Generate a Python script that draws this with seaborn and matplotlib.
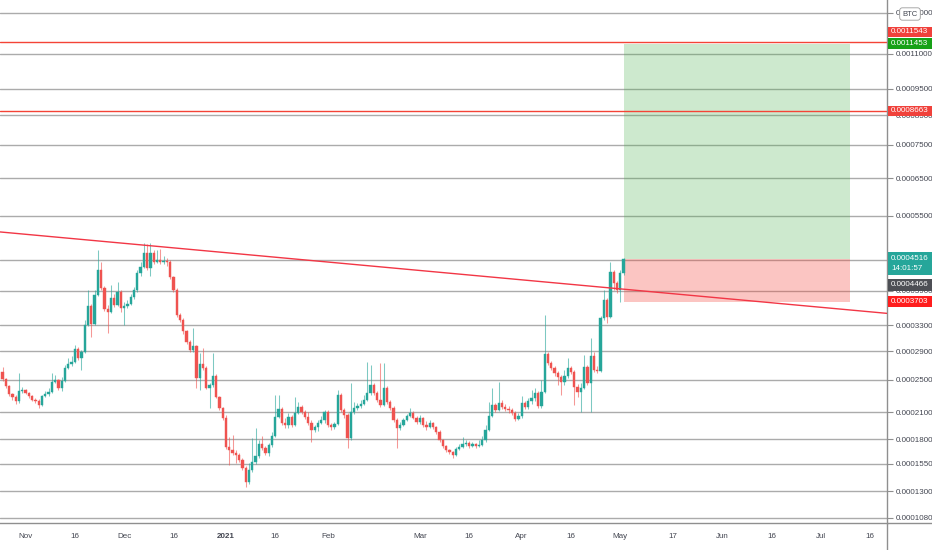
import numpy as np
import pandas as pd
import matplotlib
matplotlib.use('Agg')
import matplotlib.pyplot as plt
import matplotlib.dates as mdates
from matplotlib.patches import Rectangle
from matplotlib.lines import Line2D
from matplotlib.transforms import IdentityTransform
from matplotlib.ticker import FixedLocator, FuncFormatter, NullLocator
import seaborn as sns

sns.set_style('white')
plt.rcParams['font.family'] = ['Liberation Sans', 'DejaVu Sans']

# daily candles from 2020-10-25, prices in satoshi (1e-8 BTC)
first_day = '2020-10-25'
first_open = 26100
closes = [
    25100, 24200, 23200, 22800, 22300, 23600, 23700, 23300, 22900, 22400,
    22300, 21800, 22900, 23200, 23400, 24700, 25000, 24000, 24900, 26600,
    27200, 27400, 29300, 28000, 28900, 33100, 36300, 33200, 38200, 43000,
    39500, 35800, 35200, 37700, 36500, 38800, 35900, 36300, 36600, 37900,
    39200, 42400, 43600, 46500, 43400, 46500, 44600, 45000, 44600, 44800,
    44600, 41600, 39200, 34700, 33900, 32100, 30400, 29200, 29800, 25300,
    27200, 26600, 24000, 24300, 25500, 22800, 21500, 20300, 17200, 16900,
    16600, 16400, 15900, 15100, 13800, 14900, 15700, 16300, 17500, 17100,
    16600, 17400, 18300, 20400, 21400, 19700, 19500, 20400, 19500, 20900,
    21600, 21000, 20400, 19700, 19000, 19300, 19700, 20100, 21000, 19500,
    19300, 19600, 23100, 21200, 20700, 18100, 21000, 21500, 21700, 22000,
    22400, 23300, 24300, 23300, 22400, 21800, 24000, 22200, 21500, 20100,
    19200, 19500, 20100, 20500, 20900, 20300, 19900, 20300, 19500, 19300,
    19700, 19300, 18800, 17900, 17300, 16900, 16700, 16400, 17000, 17200,
    17500, 17600, 17300, 17500, 17300, 17400, 17900, 19000, 20500, 21800,
    21200, 22100, 21600, 21400, 21200, 20900, 20200, 20500, 22100, 21600,
    22300, 22700, 23300, 21700, 23400, 28600, 27300, 26600, 25900, 25400,
    24700, 25500, 26600, 26100, 24100, 23400, 24000, 26800, 24600, 28300,
    26300, 26200, 34200, 37300, 34400, 42600, 40500, 39200, 42400, 45160,
]
highs = [
    26800, 25300, 24300, 23300, 23100, 25900, 24100, 23800, 23400, 23100,
    22700, 22600, 23100, 23600, 24000, 25900, 25700, 25100, 25400, 27000,
    28000, 28300, 29900, 29600, 29200, 33900, 39200, 36600, 39200, 47200,
    44600, 39900, 36500, 40100, 38400, 40700, 39200, 37000, 37300, 38400,
    39700, 43000, 44600, 48700, 48500, 48700, 47200, 47200, 47400, 45900,
    45500, 45000, 41800, 39500, 35100, 34200, 32300, 30700, 32600, 29900,
    28700, 29500, 26900, 24600, 28700, 25800, 22900, 21600, 20700, 18200,
    18400, 16900, 16600, 16100, 15300, 15600, 18100, 19200, 17900, 18300,
    17300, 17600, 18700, 23100, 23100, 21600, 20300, 20900, 20700, 22800,
    22200, 21800, 21200, 21000, 20100, 19500, 20100, 20500, 21200, 21200,
    19700, 19900, 23700, 23300, 21500, 20900, 24600, 22200, 22100, 22400,
    23100, 27400, 27000, 24600, 23600, 27300, 27300, 24200, 22400, 21700,
    20300, 19900, 20300, 20800, 21500, 21100, 20500, 20700, 20400, 20000,
    20100, 19900, 19400, 19000, 18000, 17400, 17000, 16800, 17200, 17500,
    18200, 17900, 17800, 17700, 17600, 17900, 18300, 19500, 22200, 23900,
    22100, 24700, 22400, 22000, 21700, 21500, 21100, 20900, 22900, 22300,
    22700, 23700, 24000, 23600, 25000, 34700, 28900, 27600, 26900, 26200,
    25700, 26300, 28000, 26900, 26300, 24500, 24600, 28500, 27000, 31000,
    28900, 26900, 34600, 39200, 37700, 44600, 43000, 40900, 43000, 45500,
]
lows = [
    24900, 24000, 22900, 22400, 22000, 22100, 23300, 23200, 22700, 22300,
    22100, 21500, 21700, 22800, 22900, 23300, 24600, 23700, 23600, 24700,
    26500, 26900, 27300, 27700, 26300, 28700, 32900, 31200, 33000, 38100,
    39200, 35400, 31800, 35100, 36100, 36300, 35200, 33100, 35900, 36500,
    37500, 38800, 41800, 43400, 43000, 41800, 44200, 44400, 44200, 44200,
    43800, 41200, 38800, 34400, 33600, 31600, 30100, 28900, 28900, 24000,
    23700, 26300, 23800, 21500, 24100, 22700, 21200, 20100, 17000, 15400,
    16400, 15600, 15700, 14900, 13400, 13600, 14700, 15500, 16100, 16900,
    16400, 16300, 17200, 18200, 20300, 19500, 19200, 19200, 19300, 19400,
    20800, 20800, 20200, 19500, 17700, 18700, 18900, 19600, 19700, 19300,
    19000, 19100, 19500, 21000, 20300, 17100, 17900, 20800, 21200, 21500,
    21800, 22300, 23100, 23100, 22200, 21600, 21700, 22000, 21200, 19900,
    17100, 19000, 19400, 20000, 20400, 20200, 19600, 19600, 19300, 19000,
    19200, 19100, 18500, 17700, 17100, 16700, 16500, 16100, 16300, 16900,
    17100, 17300, 17100, 17200, 17100, 17200, 17300, 17700, 18900, 20400,
    21000, 21100, 21400, 21100, 20900, 20700, 20000, 20100, 20300, 21400,
    21400, 22000, 22300, 21500, 21500, 23300, 27000, 26300, 25500, 24300,
    23100, 24300, 25300, 25800, 21800, 22800, 21000, 23800, 24300, 21000,
    26100, 25900, 26100, 33900, 33400, 34200, 39200, 38600, 37000, 42000,
]

# drawings (BTC)
trend_dates = ['2020-10-24 05:00', '2021-07-21 04:00']
trend_prices = [0.000512, 0.000350]
red_levels = [0.0011543, 0.0008663]
pos_start, pos_end = '2021-05-02', '2021-07-10'
entry, target, stop = 0.0004516, 0.0011453, 0.0003703
prev_close = 0.0004466

price_ticks = [0.000108, 0.00013, 0.000155, 0.00018, 0.00021, 0.00025, 0.00029,
               0.00033, 0.00039, 0.00045, 0.00055, 0.00065, 0.00075, 0.00085,
               0.00095, 0.0011, 0.0013]
hidden_ticks = [0.00045]   # label sits fully under the last-price tag
xtick_dates = ['2020-11-01', '2020-11-16', '2020-12-01', '2020-12-16', '2021-01-01',
               '2021-01-16', '2021-02-01', '2021-03-01', '2021-03-16', '2021-04-01',
               '2021-04-16', '2021-05-01', '2021-05-17', '2021-06-01', '2021-06-16',
               '2021-07-01', '2021-07-16']
xtick_labels = ['Nov', '16', 'Dec', '16', '2021', '16', 'Feb', 'Mar', '16', 'Apr',
                '16', 'May', '17', 'Jun', '16', 'Jul', '16']

UP, DOWN = '#26a69a', '#ef5350'
TXT = '#434651'
AXC = '#8f8f8f'

c = np.array(closes) * 1e-8
h = np.array(highs) * 1e-8
l = np.array(lows) * 1e-8
o = np.array([first_open] + closes[:-1]) * 1e-8
dates = pd.date_range(first_day, periods=len(closes), freq='D')
x = mdates.date2num(dates)
up = c >= o
col = np.where(up, UP, DOWN)

OFF = 1e-4


def fwd(p):
    return np.log(np.maximum(np.asarray(p) + OFF, 1e-9))


def inv(v):
    return np.exp(v) - OFF


def fmt_price(v, pos):
    if any(abs(v - t) < 1e-9 for t in hidden_ticks):
        return ''
    return f'{v:.7f}'


fig = plt.figure(figsize=(9.32, 5.5), dpi=100)
ax = fig.add_axes([0, 27 / 550, 887 / 932, 523 / 550])
ax.set_yscale('function', functions=(fwd, inv))
ax.set_ylim(0.0001039, 0.0013693)
x0 = mdates.date2num(pd.Timestamp(first_day)) - 0.79
ax.set_xlim(x0, x0 + 887 / 3.2856)

# grid / axes
ax.yaxis.set_major_locator(FixedLocator(price_ticks))
ax.yaxis.set_minor_locator(NullLocator())
ax.yaxis.set_major_formatter(FuncFormatter(fmt_price))
ax.yaxis.tick_right()
ax.grid(axis='y', color='#ababab', lw=1.0)
ax.grid(axis='x', visible=False)
ax.set_xticks(mdates.date2num(pd.to_datetime(xtick_dates)))
ax.set_xticklabels(xtick_labels)
for t in ax.get_xticklabels():
    if t.get_text() == '2021':
        t.set_fontweight('bold')
ax.tick_params(axis='y', length=4, width=0.8, color=AXC, pad=2, labelsize=5.8, labelcolor=TXT)
ax.tick_params(axis='x', length=3, width=0.8, color=AXC, pad=4, labelsize=5.8, labelcolor=TXT)
for s in ['left', 'top']:
    ax.spines[s].set_visible(False)
for s in ['bottom', 'right']:
    ax.spines[s].set_color(AXC)
    ax.spines[s].set_linewidth(1)

# position tool
px = mdates.date2num(pd.to_datetime([pos_start, pos_end]))
ax.fill_between(px, entry, target, color=(0.30, 0.69, 0.31, 0.28), lw=0, zorder=1)
ax.fill_between(px, stop, entry, color=(0.96, 0.26, 0.21, 0.30), lw=0, zorder=1)

# horizontal levels and trendline
for lv in red_levels:
    ax.axhline(lv, color='#f44336', lw=1, zorder=2)
ax.plot(mdates.date2num(pd.to_datetime(trend_dates)), trend_prices, color='#f23645', lw=1, zorder=5)

# candles
ax.vlines(x, l, h, colors=col, lw=0.75, alpha=0.6, zorder=3)
ax.bar(x, np.abs(c - o), bottom=np.minimum(o, c), width=0.7, color=col,
       edgecolor=col, lw=0.3, zorder=4)

# axis lines that run past the plot area
fig.add_artist(Line2D([887 / 932, 1], [27 / 550, 27 / 550], color=AXC, lw=1))
fig.add_artist(Line2D([887 / 932, 887 / 932], [0, 27 / 550], color=AXC, lw=1))


def price_tag(price, text, color, shift=0, hgt=11, ls=1.2):
    y = ax.transData.transform((0, price))[1] + shift
    fig.add_artist(Rectangle((888, y - hgt / 2), 44, hgt, transform=IdentityTransform(),
                             facecolor=color, edgecolor='none', zorder=5))
    fig.text(891, y, text, transform=IdentityTransform(), ha='left', va='center',
             color='white', fontsize=5.8, linespacing=ls, zorder=6)


price_tag(red_levels[0], '0.0011543', '#f0413b', shift=10.3, hgt=10)
price_tag(target, '0.0011453', '#17a117')
price_tag(red_levels[1], '0.0008663', '#f0413b', hgt=10)
price_tag(entry, '0.0004516\n14:01:57', UP, shift=-4, hgt=23, ls=1.45)
price_tag(prev_close, '0.0004466', '#4d4f55', shift=-23, hgt=12)
price_tag(stop, '0.0003703', '#ff1d1d')

fig.text(910, 536, 'BTC', transform=IdentityTransform(), ha='center', va='center',
         fontsize=5.5, color=TXT,
         bbox=dict(boxstyle='round,pad=0.35', fc='white', ec='#9a9a9a', lw=0.6), zorder=7)

fig.savefig('out.png', dpi=100)
